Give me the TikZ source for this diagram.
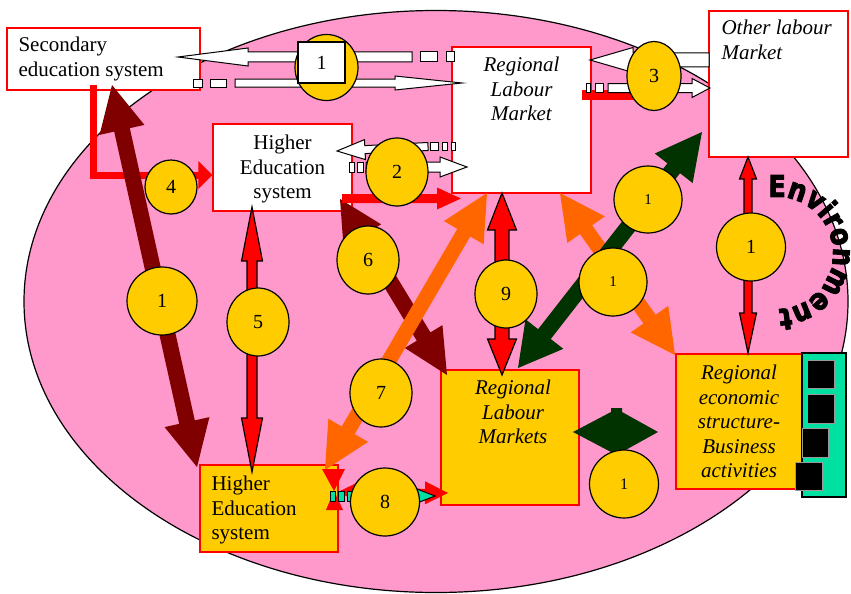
\documentclass[tikz,border=0pt]{standalone}
\usepackage{fontspec}
\setmainfont{Liberation Serif}
\newfontfamily\envfont[FakeBold=3, FakeStretch=0.85]{DejaVu Sans Bold}
\usepackage{tikz}
\usetikzlibrary{positioning, calc, shapes.geometric, arrows.meta, decorations.text}
\definecolor{bgPink}{HTML}{FF99CC}
\definecolor{bGold}{HTML}{FFCC00}
\definecolor{aMaroon}{HTML}{800000}
\definecolor{aOrange}{HTML}{FF6600}
\definecolor{aGreen}{HTML}{003300}
\definecolor{aTeal}{HTML}{00E0A0}
\tikzset{
  box/.style={draw=red, line width=1.3pt, fill=white, inner sep=0pt},
  goldbox/.style={box, fill=bGold},
  txt/.style={inner sep=0pt, font=\fontsize{21}{24.5}\selectfont},
  itxt/.style={inner sep=0pt, font=\fontsize{21}{24.5}\selectfont\itshape},
}
\tikzset{
  bub/.style={ellipse, draw=black, fill=bGold, line width=1.2pt, inner sep=0pt,
    font=\fontsize{20}{20}\selectfont},
  smallnum/.style={font=\fontsize{15}{15}\selectfont},
  numbox/.style={draw=black, fill=white, line width=1.2pt, inner sep=0pt,
    font=\fontsize{20}{20}\selectfont},
  hollow/.style={fill=white, draw=black, line width=1pt},
  dashcell/.style={fill=white, draw=black, line width=1pt},
  redarrow/.style={fill=red, draw=black, line width=1.2pt},
  tealarrow/.style={fill=aTeal, draw=black, line width=1pt},
  tealcell/.style={fill=aTeal, draw=black, line width=1pt},
  elbow/.style={draw=red, line width=7pt, -{Triangle[length=14pt,width=27pt]}},
  redbar/.style={draw=red, line width=10pt},
  chip/.style={fill=black, draw=black!40, line width=0.6pt, inner sep=0pt},
}
\newcommand{\dblarrow}[7]{%
  \path ($(#2)!#5!(#3)$) coordinate (ta) ($(#3)!#6!(#2)$) coordinate (tb);
  \path[#1] (#2) -- ($(ta)!#7!90:(#3)$) -- ($(ta)!#4!90:(#3)$) -- ($(tb)!#4!-90:(#2)$)
    -- ($(tb)!#7!-90:(#2)$) -- (#3) -- ($(tb)!#7!90:(#2)$) -- ($(tb)!#4!90:(#2)$)
    -- ($(ta)!#4!-90:(#3)$) -- ($(ta)!#7!-90:(#3)$) -- cycle;}
\newcommand{\onearrow}[6]{%
  \path ($(#3)!#5!(#2)$) coordinate (tb);
  \path[#1] ($(#2)!#4!90:(#3)$) -- ($(tb)!#4!-90:(#2)$) -- ($(tb)!#6!-90:(#2)$) -- (#3)
    -- ($(tb)!#6!90:(#2)$) -- ($(tb)!#4!90:(#2)$) -- ($(#2)!#4!-90:(#3)$) -- cycle;}
\begin{document}
\begin{tikzpicture}[x=1pt, y=-1pt, >=Stealth]
  \useasboundingbox (0,0) rectangle (851,594);
  \node[ellipse, draw=black, line width=1.2pt, fill=bgPink, minimum width=824pt,
    minimum height=582pt, inner sep=0pt] (world) at (436,301.5) {};

  \node[box, minimum width=193pt, minimum height=62pt] (sec) at (103.5,59) {};
  \node[txt, align=left, below right=9.7pt and 12pt of sec.north west] (sectxt) {Secondary\\education system};
  \node[box, minimum width=139pt, minimum height=87pt] (he1) at (282.5,167.5) {};
  \node[txt, align=center, below=11.7pt of he1.north] (he1txt) {Higher\\Education\\system};
  \node[box, minimum width=139pt, minimum height=146pt] (rlm) at (521.5,120) {};
  \node[itxt, align=center, below=10.7pt of rlm.north] (rlmtxt) {Regional\\Labour\\Market};
  \node[box, minimum width=139pt, minimum height=146pt] (olm) at (778.5,84) {};
  \node[itxt, align=left, below right=9.7pt and 13pt of olm.north west] (olmtxt) {Other labour\\Market};
  \node[goldbox, minimum width=138pt, minimum height=87pt] (he2) at (269,508.5) {};
  \node[txt, align=left, below right=11.7pt and 12pt of he2.north west] (he2txt) {Higher\\Education\\system};
  \node[goldbox, minimum width=138pt, minimum height=135pt] (rlms) at (510,437.5) {};
  \node[itxt, align=center, below=10.7pt of rlms.north, xshift=3pt] (rlmstxt) {Regional\\Labour\\Markets};
  \node[goldbox, minimum width=126pt, minimum height=135pt] (res) at (739,421.5) {};
  \node[itxt, align=center, below=11.7pt of res.north] (restxt) {Regional\\economic\\structure-\\Business\\activities};

  \coordinate (e4a) at (93.5,85);
  \coordinate (m1a) at (112,85);    \coordinate (m1b) at (197,467);
  \coordinate (m6a) at (340,199);   \coordinate (m6b) at (447,375);
  \coordinate (o7a) at (487,193);   \coordinate (o7b) at (325,470);
  \coordinate (o2a) at (560,193);   \coordinate (o2b) at (675,355);
  \coordinate (g1a) at (702,132);   \coordinate (g1b) at (518,368);
  \coordinate (r5a) at (252,207);   \coordinate (r5b) at (252,472);
  \coordinate (r9a) at (502,193);   \coordinate (r9b) at (502,375);
  \coordinate (rRa) at (748,157);   \coordinate (rRb) at (748,353);
  \coordinate (r2a) at (342,198.5); \coordinate (r2b) at (461,198.5);
  \coordinate (r3a) at (582,95);    \coordinate (r3b) at (645,95);
  \coordinate (w1a) at (412,57);    \coordinate (w1b) at (178,57);
  \coordinate (w1c) at (235,83);    \coordinate (w1d) at (462,83);
  \coordinate (w2a) at (428,146.5); \coordinate (w2b) at (337,151);
  \coordinate (w2c) at (366,167);   \coordinate (w2d) at (467,167);
  \coordinate (w3a) at (709,60);    \coordinate (w3b) at (590,60);
  \coordinate (w3c) at (608,88);    \coordinate (w3d) at (710,88);
  \coordinate (r8a) at (338,492);   \coordinate (r8b) at (448,493);
  \coordinate (t8a) at (355,496);   \coordinate (t8b) at (435,496);
  \coordinate (gda) at (573,432);   \coordinate (gdb) at (658,432);

  \draw[elbow] (e4a) |- ([yshift=-7.5pt]he1.west);
  \dblarrow{fill=aMaroon}{m1a}{m1b}{8pt}{46pt}{46pt}{23pt}
  \dblarrow{fill=aMaroon}{m6a}{m6b}{8pt}{43pt}{45pt}{22pt}
  \dblarrow{fill=aOrange}{o7a}{o7b}{7.5pt}{46pt}{46pt}{23pt}
  \dblarrow{fill=aOrange}{o2a}{o2b}{7.5pt}{45pt}{44pt}{23pt}
  \dblarrow{fill=aGreen}{g1a}{g1b}{8pt}{46pt}{43pt}{24pt}
  \dblarrow{redarrow}{r5a}{r5b}{5pt}{54pt}{54pt}{10.5pt}
  \dblarrow{redarrow}{r9a}{r9b}{7pt}{37pt}{36pt}{14.5pt}
  \dblarrow{redarrow}{rRa}{rRb}{4pt}{22pt}{40pt}{8.5pt}
  \dblarrow{fill=aGreen}{gda}{gdb}{24pt}{38pt}{36pt}{20pt}

  \onearrow{fill=red}{r2a}{r2b}{4.5pt}{24pt}{11pt}
  \draw[redbar] (r3a) -- (r3b);
  \onearrow{hollow}{w1a}{w1b}{5pt}{70pt}{9pt}
  \draw[dashcell] (420,52) rectangle (437,62) (446,52) rectangle (454,62);
  \onearrow{hollow}{w1c}{w1d}{4pt}{67pt}{7pt}
  \draw[dashcell] (193,79) rectangle (202,87) (210,79) rectangle (226,87);
  \onearrow{hollow}{w2a}{w2b}{4pt}{28pt}{10pt}
  \draw[dashcell] (430,142) rectangle (438,150) (442,142) rectangle (447,150) (451,142) rectangle (455,150);
  \onearrow{hollow}{w2c}{w2d}{5pt}{27pt}{10pt}
  \draw[dashcell] (349,162) rectangle (354,172) (357,162) rectangle (363,172);
  \onearrow{hollow}{w3a}{w3b}{7pt}{43pt}{12.5pt}
  \onearrow{hollow}{w3c}{w3d}{4.5pt}{18pt}{9.5pt}
  \draw[dashcell] (586,83) rectangle (590,92) (595,83) rectangle (603,92);

  \dblarrow{fill=red}{r8a}{r8b}{4pt}{23pt}{23pt}{11.5pt}
  \fill[red] (322,469) -- (345,469) -- (334,491) -- cycle (326,510) -- (343,510) -- (334,491) -- cycle;
  \onearrow{tealarrow}{t8a}{t8b}{4.5pt}{18pt}{7pt}
  \draw[tealcell] (330,491) rectangle (335,501) (338,491) rectangle (344,501) (347,491) rectangle (352,501);

  \node[bub, minimum width=63pt, minimum height=66pt] (c1) at (326.5,67.5) {};
  \node[numbox, minimum width=47pt, minimum height=41pt] (sq1) at (321.5,62.5) {1};
  \node[bub, minimum width=52pt, minimum height=54pt] (c4) at (171,187) {4};
  \node[bub, minimum width=62pt, minimum height=68pt] (c2) at (397,172) {2};
  \node[bub, minimum width=54pt, minimum height=69pt] (c3) at (654,76) {3};
  \node[bub, smallnum, minimum width=68pt, minimum height=67pt] (cA) at (648,199.5) {1};
  \node[bub, minimum width=70pt, minimum height=68pt] (cL) at (162,301) {1};
  \node[bub, minimum width=62pt, minimum height=68pt] (c5) at (258,322) {5};
  \node[bub, minimum width=62pt, minimum height=68pt] (c6) at (368,260) {6};
  \node[bub, minimum width=62pt, minimum height=68pt] (c7) at (381,393) {7};
  \node[bub, minimum width=69pt, minimum height=68pt] (c8) at (385,502) {8};
  \node[bub, minimum width=62pt, minimum height=68pt] (c9) at (506,294) {9};
  \node[bub, smallnum, minimum width=68pt, minimum height=68pt] (cM) at (613,282) {1};
  \node[bub, minimum width=69pt, minimum height=68pt] (cR) at (751,247) {1};
  \node[bub, font=\fontsize{16}{16}\selectfont, minimum width=69pt, minimum height=68pt] (cB) at (624,484) {1};

  \coordinate (envc) at (777,253);
  \path[decorate, decoration={text along path, text align=center,
      text={|\envfont\fontsize{30}{30}\selectfont|Environment}}]
    ([shift={(103:56pt)}]envc) arc[start angle=103, end angle=-93, radius=56pt];

  \node[draw=black, fill=aTeal, line width=1.2pt, minimum width=44pt, minimum height=144pt] (bar) at (824,425) {};
  \node[chip, minimum width=27pt, minimum height=28pt] (chipa) at (820.5,374) {};
  \node[chip, minimum width=27pt, minimum height=29pt] (chipb) at (820.5,408.5) {};
  \node[chip, minimum width=26pt, minimum height=29pt] (chipc) at (815,442.5) {};
  \node[chip, minimum width=27pt, minimum height=28pt] (chipd) at (808.5,476) {};
\end{tikzpicture}
\end{document}
